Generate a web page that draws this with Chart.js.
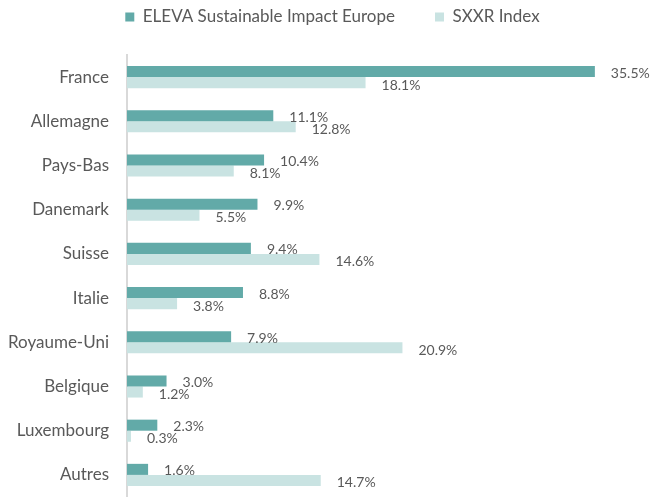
<!DOCTYPE html>
<html><head><meta charset="utf-8">
<script src="https://cdn.jsdelivr.net/npm/chart.js@4"></script>
<style>html,body{margin:0;padding:0;background:#fff}#wrap{width:651px;height:497px}</style>
</head><body><div id="wrap"><canvas id="c" width="651" height="497"></canvas></div>
<script>
const categories = ["France","Allemagne","Pays-Bas","Danemark","Suisse","Italie","Royaume-Uni","Belgique","Luxembourg","Autres"];
const fundValues = [35.5,11.1,10.4,9.9,9.4,8.8,7.9,3.0,2.3,1.6];
const indexValues = [18.1,12.8,8.1,5.5,14.6,3.8,20.9,1.2,0.3,14.7];
const seriesNames = ["ELEVA Sustainable Impact Europe","SXXR Index"];
const FONT = "Lato, 'Open Sans', sans-serif";
const TEXT = "#595959";

const labelPlugin = {
  id: 'valLabels',
  afterLayout(chart) {
    if (chart.legend) { chart.legend.left += 12; chart.legend.right += 12; }
  },
  afterDatasetsDraw(chart) {
    const ctx = chart.ctx;
    ctx.save();
    ctx.font = "14px " + FONT;
    ctx.fillStyle = TEXT;
    ctx.textAlign = 'left';
    ctx.textBaseline = 'middle';
    chart.data.datasets.forEach((ds, di) => {
      const meta = chart.getDatasetMeta(di);
      meta.data.forEach((bar, i) => {
        ctx.fillText(ds.data[i].toFixed(1) + '%', bar.x + 16, bar.y + (di === 0 ? 1.5 : 2.5));
      });
    });
    ctx.restore();
  }
};

new Chart(document.getElementById('c'), {
  type: 'bar',
  data: {
    labels: categories,
    datasets: [
      { label: seriesNames[0], data: fundValues, backgroundColor: '#62AAA8', barPercentage: 1, categoryPercentage: 0.5 },
      { label: seriesNames[1], data: indexValues, backgroundColor: '#C9E3E2', barPercentage: 1, categoryPercentage: 0.5 }
    ]
  },
  options: {
    indexAxis: 'y',
    responsive: false,
    animation: false,
    layout: { padding: { left: 0, right: 10, top: -31.5, bottom: 0 } },
    scales: {
      x: {
        position: 'top', min: 0, max: 39,
        ticks: { display: false }, grid: { display: false }, border: { display: false },
        afterFit(s) { s.height = 19.5; }
      },
      y: {
        grid: { display: false, drawTicks: false },
        border: { display: true, color: '#D9D9D9', width: 2 },
        ticks: { color: TEXT, font: { family: FONT, size: 17 }, padding: 18 },
        afterFit(s) { s.width = 127; s.paddingTop = 0; s.paddingBottom = 0; }
      }
    },
    plugins: {
      legend: {
        position: 'top',
        labels: { color: TEXT, font: { family: FONT, size: 17 }, boxWidth: 9, boxHeight: 9, padding: 40 }
      },
      tooltip: { enabled: false }
    }
  },
  plugins: [labelPlugin]
});
</script></body></html>
